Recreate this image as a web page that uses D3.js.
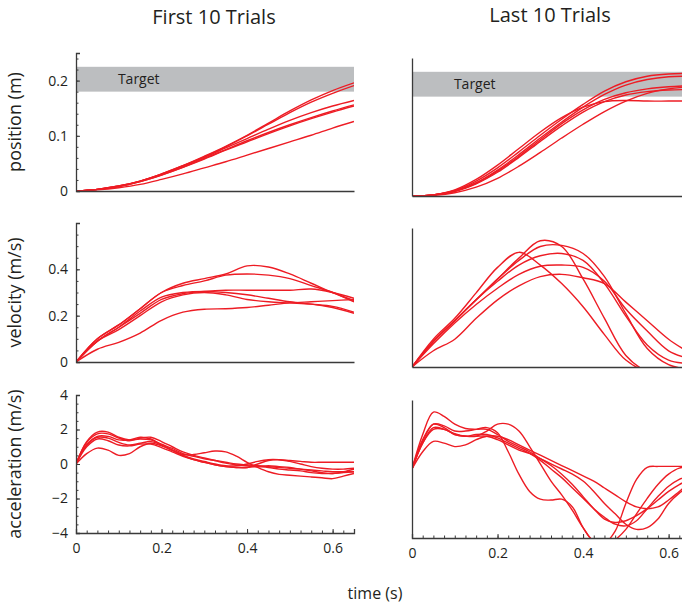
<!DOCTYPE html>
<html>
<head>
<meta charset="utf-8">
<script src="https://cdn.jsdelivr.net/npm/d3@7"></script>
<style>
    body { margin: 0; background: #fff; }
    text { font-family: "Open Sans", "Noto Sans", sans-serif; fill: #231f20; }
</style>
</head>
<body>
<svg id="chart" width="682" height="609"></svg>
<script>
// Sample times (s)
const posTime = [0, .05, .1, .15, .2, .25, .3, .35, .4, .45, .5, .55, .6, .65];
const accTime = [0, .025, .05, .075, .1, .125, .15, .175, .2, .225, .25, .275, .3, .325,
    .35, .375, .4, .425, .45, .475, .5, .525, .55, .575, .6, .625, .65];

const targetRange = [0.18, 0.225];

// First 10 trials
const firstPos = [
    [0, .003, .009, .018, .031, .046, .063, .081, .101, .123, .145, .165, .182, .196],
    [0, .003, .009, .018, .031, .046, .062, .080, .100, .121, .142, .161, .177, .191],
    [0, .003, .009, .018, .030, .045, .061, .078, .095, .112, .128, .142, .154, .164],
    [0, .003, .008, .017, .029, .043, .059, .075, .091, .106, .120, .133, .145, .156],
    [0, .003, .008, .017, .029, .043, .058, .074, .089, .104, .118, .131, .143, .154],
    [0, .002, .006, .012, .021, .031, .042, .053, .065, .077, .089, .101, .114, .126]
];
const firstVel = [
    [0, .10, .16, .23, .30, .34, .36, .38, .415, .41, .38, .34, .30, .265],
    [0, .10, .16, .23, .30, .33, .35, .375, .38, .375, .36, .33, .30, .26],
    [0, .09, .15, .21, .27, .295, .305, .31, .31, .31, .31, .315, .30, .275],
    [0, .09, .15, .22, .28, .30, .305, .30, .29, .275, .26, .25, .24, .215],
    [0, .09, .14, .20, .26, .29, .30, .29, .27, .26, .255, .25, .235, .21],
    [0, .055, .085, .125, .18, .215, .228, .23, .235, .245, .255, .26, .265, .27]
];
const firstAcc = [
    [0, 1.3, 1.85, 1.85, 1.55, 1.4, 1.45, 1.4, 1.15, .9, .6, .45, .3, .2, .1, 0, -.05, -.1, -.15, -.2, -.25, -.3, -.35, -.4, -.45, -.45, -.45],
    [0, 1.25, 1.75, 1.75, 1.5, 1.35, 1.5, 1.55, 1.3, 1.0, .7, .5, .35, .2, .05, -.05, -.1, -.15, -.2, -.3, -.35, -.4, -.5, -.55, -.55, -.5, -.45],
    [0, 1.1, 1.6, 1.6, 1.4, 1.4, 1.55, 1.45, 1.1, .8, .5, .3, .15, 0, -.1, -.1, 0, .15, .25, .25, .2, .15, .1, .1, .1, .1, .1],
    [0, 1.1, 1.55, 1.5, 1.25, 1.1, 1.2, 1.3, 1.1, .8, .55, .55, .65, .75, .7, .45, .1, -.2, -.45, -.6, -.65, -.7, -.75, -.8, -.85, -.7, -.55],
    [0, 1.0, 1.45, 1.35, 1.1, 1.05, 1.15, 1.15, .95, .7, .45, .25, .1, -.05, -.15, -.2, -.2, -.15, -.1, -.15, -.2, -.3, -.4, -.5, -.55, -.45, -.3],
    [0, .6, .92, .8, .5, .6, 1.0, 1.2, 1.05, .8, .5, .25, .1, -.05, -.15, -.2, -.2, 0, .2, .25, .15, 0, -.15, -.25, -.3, -.3, -.25]
];

// Last 10 trials
const lastPos = [
    [0, .002, .011, .030, .056, .086, .116, .142, .161, .171, .173, .172, .172, .172],
    [0, .002, .010, .027, .051, .080, .110, .139, .166, .190, .207, .217, .221, .222],
    [0, .002, .009, .024, .047, .075, .105, .134, .161, .184, .201, .211, .216, .217],
    [0, .002, .009, .023, .045, .072, .102, .131, .156, .175, .187, .194, .198, .200],
    [0, .002, .008, .022, .043, .070, .099, .127, .152, .171, .183, .189, .192, .193],
    [0, .001, .006, .016, .032, .054, .079, .105, .130, .153, .172, .186, .194, .198]
];
const lastVel = [
    [0, .12, .21, .32, .43, .495, .44, .36, .26, .14, .03, -.02, -.03, -.03],
    [0, .11, .20, .29, .38, .47, .545, .52, .38, .21, .05, -.02, -.04, -.04],
    [0, .11, .20, .29, .38, .46, .52, .525, .49, .39, .23, .08, .01, -.01],
    [0, .11, .20, .29, .37, .44, .48, .49, .46, .36, .22, .095, .03, .015],
    [0, .10, .19, .27, .34, .40, .435, .44, .43, .37, .25, .155, .07, .035],
    [0, .07, .12, .21, .29, .35, .39, .40, .385, .36, .28, .20, .12, .06]
];
const lastAcc = [
    [0, 1.6, 2.6, 2.5, 2.2, 2.2, 2.3, 2.4, 2.1, 1.0, -.3, -1.3, -1.75, -1.8, -1.75, -2.2, -3.4, -4.2, -4.3, -3.6, -2.0, -.6, .1, .15, .15, .15, .15],
    [0, 1.7, 2.6, 2.4, 2.0, 1.9, 1.9, 2.2, 2.6, 2.6, 2.2, 1.3, .3, -.7, -1.5, -2.4, -3.4, -4.2, -4.4, -4.1, -3.5, -2.6, -1.7, -.9, -.3, .05, .1],
    [0, 1.5, 2.3, 2.3, 2.0, 1.9, 2.0, 2.0, 1.8, 1.5, 1.2, .9, .5, 0, -.5, -1.1, -1.7, -2.3, -2.8, -3.2, -3.3, -3.0, -2.3, -1.6, -1.0, -.6, -.4],
    [0, 2.0, 3.3, 3.05, 2.6, 2.35, 2.3, 2.3, 2.0, 1.6, 1.3, 1.0, .6, .2, -.3, -.9, -1.6, -2.3, -2.9, -3.1, -3.0, -2.7, -2.3, -1.8, -1.3, -.9, -.6],
    [0, 1.5, 2.4, 2.3, 2.05, 1.9, 1.9, 1.9, 1.7, 1.4, 1.1, .9, .6, .3, 0, -.3, -.7, -1.3, -2.0, -2.6, -3.2, -3.5, -3.4, -2.9, -2.0, -1.4, -1.0],
    [0, 1.0, 1.6, 1.5, 1.3, 1.4, 1.7, 1.9, 1.9, 1.7, 1.4, 1.1, .8, .5, .2, -.1, -.4, -.7, -1.1, -1.5, -1.9, -2.2, -2.3, -2.2, -1.8, -1.3, -.8]
];

const xTicks = [0, 0.2, 0.4, 0.6];

const svg = d3.select("#chart");
const red = "#ed1c24";
const axisColor = "#3a3a3a";
const panelWidth = 278;

// Column and row layout
const columns = [
    { title: "First 10 Trials", x0: 76, dy: 0, yTicks: true, series: { pos: firstPos, vel: firstVel, acc: firstAcc } },
    { title: "Last 10 Trials", x0: 412, dy: 5, yTicks: false, series: { pos: lastPos, vel: lastVel, acc: lastAcc } }
];
const rows = [
    { key: "pos", label: "position (m)", top: 53, bottom: 191, domain: [0, 0.25], major: [0, 0.1, 0.2], minorStep: 0.02, time: posTime },
    { key: "vel", label: "velocity (m/s)", top: 223, bottom: 362, domain: [0, 0.6], major: [0, 0.2, 0.4], minorStep: 0.05, time: posTime },
    { key: "acc", label: "acceleration (m/s)", top: 395, bottom: 533, domain: [-4, 4], major: [-4, -2, 0, 2, 4], minorStep: 0.5, time: accTime }
];

const defs = svg.append("defs");

columns.forEach((col, ci) => {
    // Column title
    svg.append("text")
        .attr("x", col.x0 + panelWidth / 2 - 1)
        .attr("y", ci === 0 ? 24 : 22)
        .attr("text-anchor", "middle")
        .style("font-size", "20px")
        .text(col.title);

    rows.forEach((row, ri) => {
        let x = d3.scaleLinear().domain([0, 0.65]).range([col.x0, col.x0 + panelWidth]);
        let y = d3.scaleLinear().domain(row.domain).range([row.bottom + col.dy, row.top + col.dy]);
        let g = svg.append("g");

        let clipId = "clip-" + ci + "-" + ri;
        defs.append("clipPath").attr("id", clipId)
            .append("rect")
            .attr("x", x(0))
            .attr("y", y.range()[1])
            .attr("width", panelWidth)
            .attr("height", y.range()[0] - y.range()[1]);

        // Target band
        if (row.key === "pos") {
            g.append("rect")
                .attr("x", x(0))
                .attr("y", y(targetRange[1]))
                .attr("width", x(0.65) - x(0))
                .attr("height", y(targetRange[0]) - y(targetRange[1]))
                .attr("fill", "#bcbec0");
            g.append("text")
                .attr("x", x(0.098))
                .attr("y", y((targetRange[0] + targetRange[1]) / 2))
                .attr("dy", "0.35em")
                .style("font-size", "14px")
                .text("Target");
        }

        // Trial curves
        let line = d3.line()
            .x((d, i) => x(row.time[i]))
            .y(d => y(d))
            .curve(d3.curveCatmullRom.alpha(0.5));

        g.append("g")
            .attr("clip-path", "url(#" + clipId + ")")
            .selectAll("path")
            .data(col.series[row.key])
            .enter()
            .append("path")
            .attr("d", line)
            .attr("fill", "none")
            .attr("stroke", red)
            .attr("stroke-width", 1.4);

        // Y axis
        let yAxis = d3.axisLeft(y).tickSizeOuter(0);
        if (col.yTicks) {
            yAxis.tickValues(row.major).tickSize(-4).tickPadding(8).tickFormat(d3.format("~g"));
        } else {
            yAxis.tickValues([]);
        }
        let yg = g.append("g").attr("transform", "translate(" + x(0) + ",0)").call(yAxis);
        if (col.yTicks) {
            let minor = d3.range(row.domain[0], row.domain[1] + 1e-9, row.minorStep);
            yg.append("g").call(d3.axisLeft(y).tickValues(minor).tickSize(-2.5).tickSizeOuter(0).tickFormat(""))
                .select(".domain").remove();
        }

        // X axis
        let xAxis = d3.axisBottom(x).tickSizeOuter(0);
        let isBottom = row.key === "acc";
        if (isBottom) {
            xAxis.tickValues(xTicks).tickSize(-4).tickPadding(10).tickFormat(d3.format("~g"));
        } else {
            xAxis.tickValues([]);
        }
        let xg = g.append("g").attr("transform", "translate(0," + y(row.domain[0]) + ")").call(xAxis);
        if (isBottom) {
            let minor = d3.range(0, 0.65 + 1e-9, 0.025);
            xg.append("g").call(d3.axisBottom(x).tickValues(minor).tickSize(-2.5).tickSizeOuter(0).tickFormat(""))
                .select(".domain").remove();
        }

        [yg, xg].forEach(ax => {
            ax.selectAll(".domain").attr("stroke", axisColor).attr("stroke-width", 1.3);
            ax.selectAll(".tick line").attr("stroke", axisColor).attr("stroke-width", 1);
            ax.selectAll("text").style("font-size", "14px").style("font-family", null).attr("fill", "#231f20");
        });

        // Row label on the left column only
        if (ci === 0) {
            svg.append("text")
                .attr("transform", "translate(21," + ((row.top + row.bottom) / 2) + ") rotate(-90)")
                .attr("text-anchor", "middle")
                .style("font-size", "18px")
                .text(row.label);
        }
    });
});

// Shared x label
svg.append("text")
    .attr("x", 375)
    .attr("y", 599)
    .attr("text-anchor", "middle")
    .style("font-size", "16px")
    .text("time (s)");
</script>
</body>
</html>
